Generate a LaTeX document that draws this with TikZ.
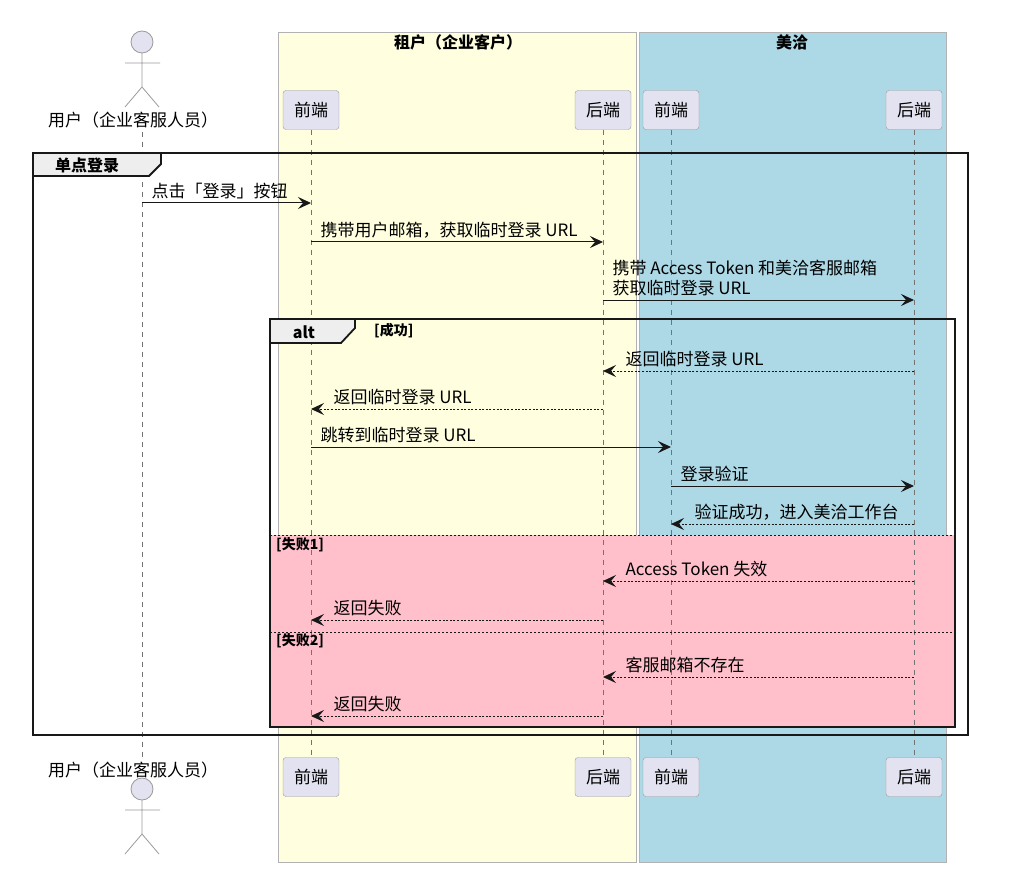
\documentclass[tikz,border=0pt]{standalone}
\usepackage{fontspec}
\setmainfont{Noto Sans CJK SC}
\usetikzlibrary{positioning, calc, arrows.meta}

\definecolor{tenantbg}{HTML}{FFFFE0}
\definecolor{meiqiabg}{HTML}{ADD8E6}
\definecolor{partfill}{HTML}{E2E2F0}
\definecolor{partline}{HTML}{9A9A9A}
\definecolor{altpink}{HTML}{FFC0CB}
\definecolor{tabfill}{HTML}{EEEEEE}
\definecolor{ink}{HTML}{181818}

\tikzset{
  txt/.style={font=\fontsize{17}{20}\selectfont},
  head/.style={font=\bfseries\fontsize{16}{19}\selectfont},
  guard/.style={font=\bfseries\fontsize{14}{16}\selectfont, inner sep=0},
  part/.style={rectangle, draw=partline, fill=partfill, rounded corners=3pt, minimum width=56, minimum height=39, inner sep=0, txt},
  life/.style={draw=black!55, dash pattern=on 5pt off 5pt, line width=0.8pt},
  box/.style={draw=black!30, line width=0.8pt},
  frame/.style={draw=ink, line width=1.8pt},
  call/.style={draw=ink, line width=1pt, -{Stealth[length=13pt, width=12pt, inset=5pt]}},
  reply/.style={call, dash pattern=on 2pt off 1.6pt},
  lbl/.style={txt, inner sep=0, text depth=0pt, anchor=south west, align=left},
}

\begin{document}
\begin{tikzpicture}[x=1pt, y=-1pt]
\useasboundingbox (0,0) rectangle (1024,890);
% boxes
\draw[box, fill=tenantbg] (278,32) rectangle (636,862);
\draw[box, fill=meiqiabg] (639,32) rectangle (946,862);
\node (tenant) [head] at (458,42) {租户（企业客户）};
\node (meiqia) [head] at (792,42) {美洽};
% else background
\fill[altpink] (270,535) rectangle (955,727);
% participants
\node (user)  [txt] at (133,120) {用户（企业客服人员）};
\node (user2) [txt] at (133,770) {用户（企业客服人员）};
\coordinate (ul) at (142,0);
\draw[life] (user.south -| ul) -- (user2.north -| ul);
\foreach \hy in {42,789} {
  \draw[partline, line width=0.8pt] (142,\hy+11) -- ++(0,34) -- ++(-17,20) (142,\hy+45) -- ++(17,20) (125,\hy+21) -- ++(35,0);
  \draw[partline, fill=partfill, line width=0.8pt] (142,\hy) circle (11pt);
}
\foreach \n/\x/\t in {tfe/311/前端, tbe/603/后端, mfe/671/前端, mbe/914/后端} {
  \node (\n)  [part] at (\x,110) {\t};
  \node (\n2) [part] at (\x,777) {\t};
  \draw[life] (\n.south) -- (\n2.north);
}
% group
\draw[frame] (33,153) rectangle (968,735);
\draw[frame, fill=tabfill] (33,153) -- (161,153) -- (161,164) -- (149,176) -- (33,176) -- cycle;
\node (grp) [head] at (87,165) {单点登录};
% alt
\draw[ink, line width=0.8pt, dash pattern=on 2pt off 2pt] (270,535) -- (955,535) (270,632) -- (955,632);
\draw[frame] (270,319) rectangle (955,727);
\draw[frame, fill=tabfill] (270,319) -- (355,319) -- (355,328) -- (341,343) -- (270,343) -- cycle;
\node (alt) [head] at (304,332) {alt};
\node (ok)    [guard, anchor=west] at (374,331) {[成功]};
\node (fail1) [guard, anchor=west] at (276,545) {[失败1]};
\node (fail2) [guard, anchor=west] at (276,641) {[失败2]};
% messages
\draw[call]  (ul |- 0,203) -- node[lbl, pos=0, xshift=9, yshift=5] {点击「登录」按钮} (tfe |- 0,203);
\draw[call]  (tfe |- 0,242) -- node[lbl, pos=0, xshift=9, yshift=5] {携带用户邮箱，获取临时登录 URL} (tbe |- 0,242);
\draw[call]  (tbe |- 0,300) -- node[lbl, pos=0, xshift=9, yshift=5] {携带 Access Token 和美洽客服邮箱\\获取临时登录 URL} (mbe |- 0,300);
\draw[reply] (mbe |- 0,371) -- node[lbl, pos=1, xshift=22, yshift=5] {返回临时登录 URL} (tbe |- 0,371);
\draw[reply] (tbe |- 0,409) -- node[lbl, pos=1, xshift=22, yshift=5] {返回临时登录 URL} (tfe |- 0,409);
\draw[call]  (tfe |- 0,447) -- node[lbl, pos=0, xshift=9, yshift=5] {跳转到临时登录 URL} (mfe |- 0,447);
\draw[call]  (mfe |- 0,486) -- node[lbl, pos=0, xshift=9, yshift=5] {登录验证} (mbe |- 0,486);
\draw[reply] (mbe |- 0,524) -- node[lbl, pos=1, xshift=23, yshift=5] {验证成功，进入美洽工作台} (mfe |- 0,524);
\draw[reply] (mbe |- 0,581) -- node[lbl, pos=1, xshift=22, yshift=5] {Access Token 失效} (tbe |- 0,581);
\draw[reply] (tbe |- 0,620) -- node[lbl, pos=1, xshift=22, yshift=5] {返回失败} (tfe |- 0,620);
\draw[reply] (mbe |- 0,677) -- node[lbl, pos=1, xshift=22, yshift=5] {客服邮箱不存在} (tbe |- 0,677);
\draw[reply] (tbe |- 0,716) -- node[lbl, pos=1, xshift=22, yshift=5] {返回失败} (tfe |- 0,716);
\end{tikzpicture}
\end{document}
